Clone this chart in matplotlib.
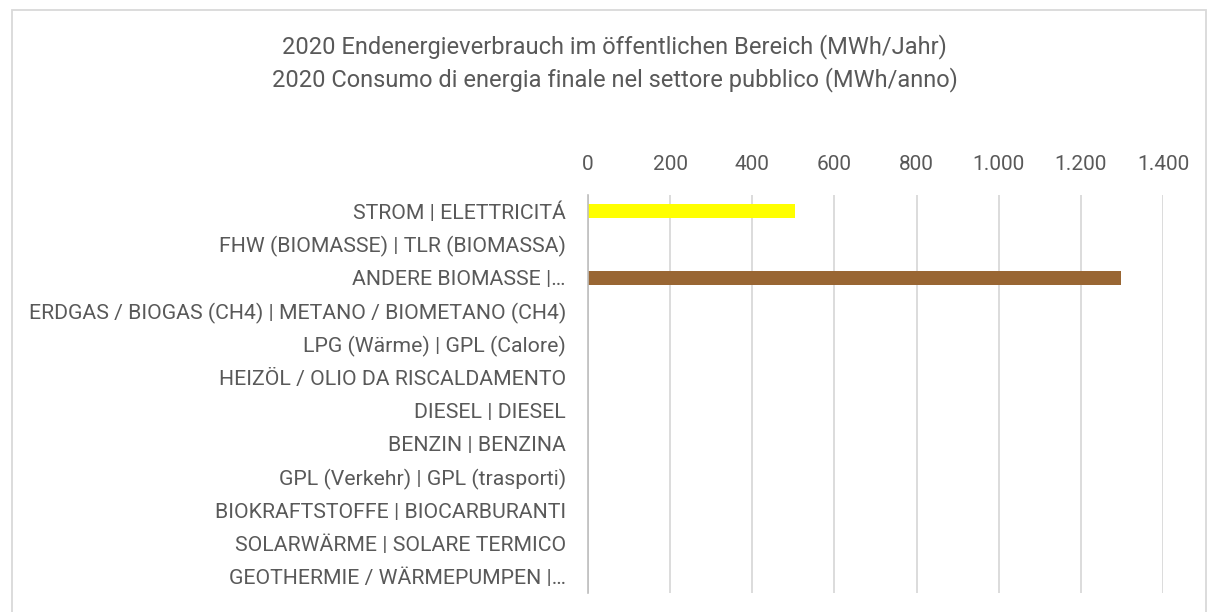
import matplotlib.pyplot as plt
from matplotlib.ticker import FuncFormatter, MultipleLocator
from matplotlib.patches import Rectangle

plt.rcParams['font.family'] = ['Roboto', 'DejaVu Sans']

# Daten
categories = [
    'STROM | ELETTRICITÁ',
    'FHW (BIOMASSE) | TLR (BIOMASSA)',
    'ANDERE BIOMASSE |…',
    'ERDGAS / BIOGAS (CH4) | METANO / BIOMETANO (CH4)',
    'LPG (Wärme) | GPL (Calore)',
    'HEIZÖL / OLIO DA RISCALDAMENTO',
    'DIESEL | DIESEL',
    'BENZIN | BENZINA',
    'GPL (Verkehr) | GPL (trasporti)',
    'BIOKRAFTSTOFFE | BIOCARBURANTI',
    'SOLARWÄRME | SOLARE TERMICO',
    'GEOTHERMIE / WÄRMEPUMPEN |…',
]
values = [505, 0, 1297, 0, 0, 0, 0, 0, 0, 0, 0, 0]
bar_colors = ['#FFFF00', '#7F7F7F', '#996633', '#7F7F7F', '#7F7F7F', '#7F7F7F',
              '#7F7F7F', '#7F7F7F', '#7F7F7F', '#7F7F7F', '#7F7F7F', '#7F7F7F']

title = ('2020 Endenergieverbrauch im öffentlichen Bereich (MWh/Jahr)\n'
         '2020 Consumo di energia finale nel settore pubblico (MWh/anno)')

text_col = '#595959'

fig = plt.figure(figsize=(12.09, 6.12), dpi=100)
ax = fig.add_axes([0.4864, 0.031, 0.4756, 0.651])

y = list(range(len(categories)))
ax.barh(y, values, height=0.42, color=bar_colors, zorder=3)

ax.set_xlim(0, 1400)
ax.set_ylim(len(categories) - 0.5, -0.5)
ax.xaxis.set_major_locator(MultipleLocator(200))
ax.xaxis.set_major_formatter(FuncFormatter(lambda v, p: f'{int(v):,}'.replace(',', '.')))
ax.xaxis.tick_top()
ax.set_yticks(y)
ax.set_yticklabels(categories)

ax.tick_params(axis='x', length=0, pad=15, labelsize=15, labelcolor=text_col)
ax.tick_params(axis='y', length=0, pad=16, labelsize=15.3, labelcolor=text_col)
ax.grid(axis='x', color='#D9D9D9', linewidth=1.3, zorder=0)

for s in ['top', 'right', 'bottom']:
    ax.spines[s].set_visible(False)
ax.spines['left'].set_color('#BFBFBF')
ax.spines['left'].set_linewidth(1.2)
ax.spines['left'].set_zorder(4)

fig.text(0.5085, 0.897, title, ha='center', va='center', fontsize=17,
         color=text_col, linespacing=1.42)

# Diagrammrahmen
frame = Rectangle((12 / 1209, -0.02), 1194 / 1209, 1 - 10 / 612 + 0.02,
                  transform=fig.transFigure, fill=False, edgecolor='#D9D9D9',
                  linewidth=1.3)
fig.patches.append(frame)

fig.savefig('out.png', dpi=100, facecolor='white')
